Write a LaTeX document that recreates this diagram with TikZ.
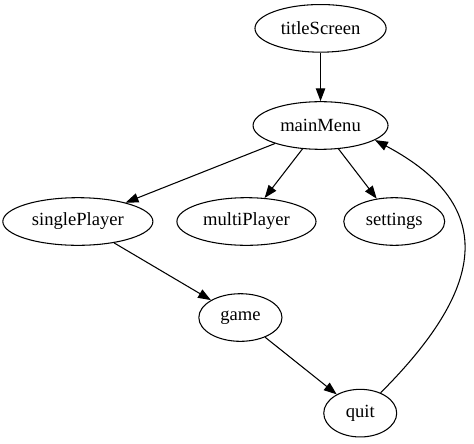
\documentclass[tikz,border=0pt]{standalone}
\usepackage{fontspec}
\setmainfont{Liberation Serif}
\usetikzlibrary{arrows.meta,shapes.geometric}

\begin{document}
\begin{tikzpicture}[>={Triangle[length=3.4mm,width=2.5mm]}, state/.style={draw, ellipse, line width=0.8pt, inner sep=1pt, minimum height=1.26cm, font=\fontsize{14}{16}\selectfont}, edge/.style={->, line width=0.8pt}]
\useasboundingbox (0,0) rectangle (12.54,-11.72);
\node[state, minimum width=3.47cm] (titleScreen) at (8.48,-0.75) {titleScreen};
\node[state, minimum width=3.57cm] (mainMenu) at (8.48,-3.32) {mainMenu};
\node[state, minimum width=3.97cm] (singlePlayer) at (2.06,-5.86) {singlePlayer};
\node[state, minimum width=3.68cm] (multiPlayer) at (6.52,-5.86) {multiPlayer};
\node[state, minimum width=2.67cm] (settings) at (10.43,-5.86) {settings};
\node[state, minimum width=2.20cm] (game) at (6.36,-8.40) {game};
\node[state, minimum width=1.93cm] (quit) at (9.53,-10.93) {quit};
\draw[edge] (titleScreen) -- (mainMenu);
\draw[edge] (mainMenu) -- (singlePlayer);
\draw[edge] (mainMenu) -- (multiPlayer);
\draw[edge] (mainMenu) -- (settings);
\draw[edge] (singlePlayer) -- (game);
\draw[edge] (game) -- (quit);
\draw[edge] (quit.45) .. controls +(45:3.8) and +(-28:3.8) .. (mainMenu.-15);
\end{tikzpicture}
\end{document}
